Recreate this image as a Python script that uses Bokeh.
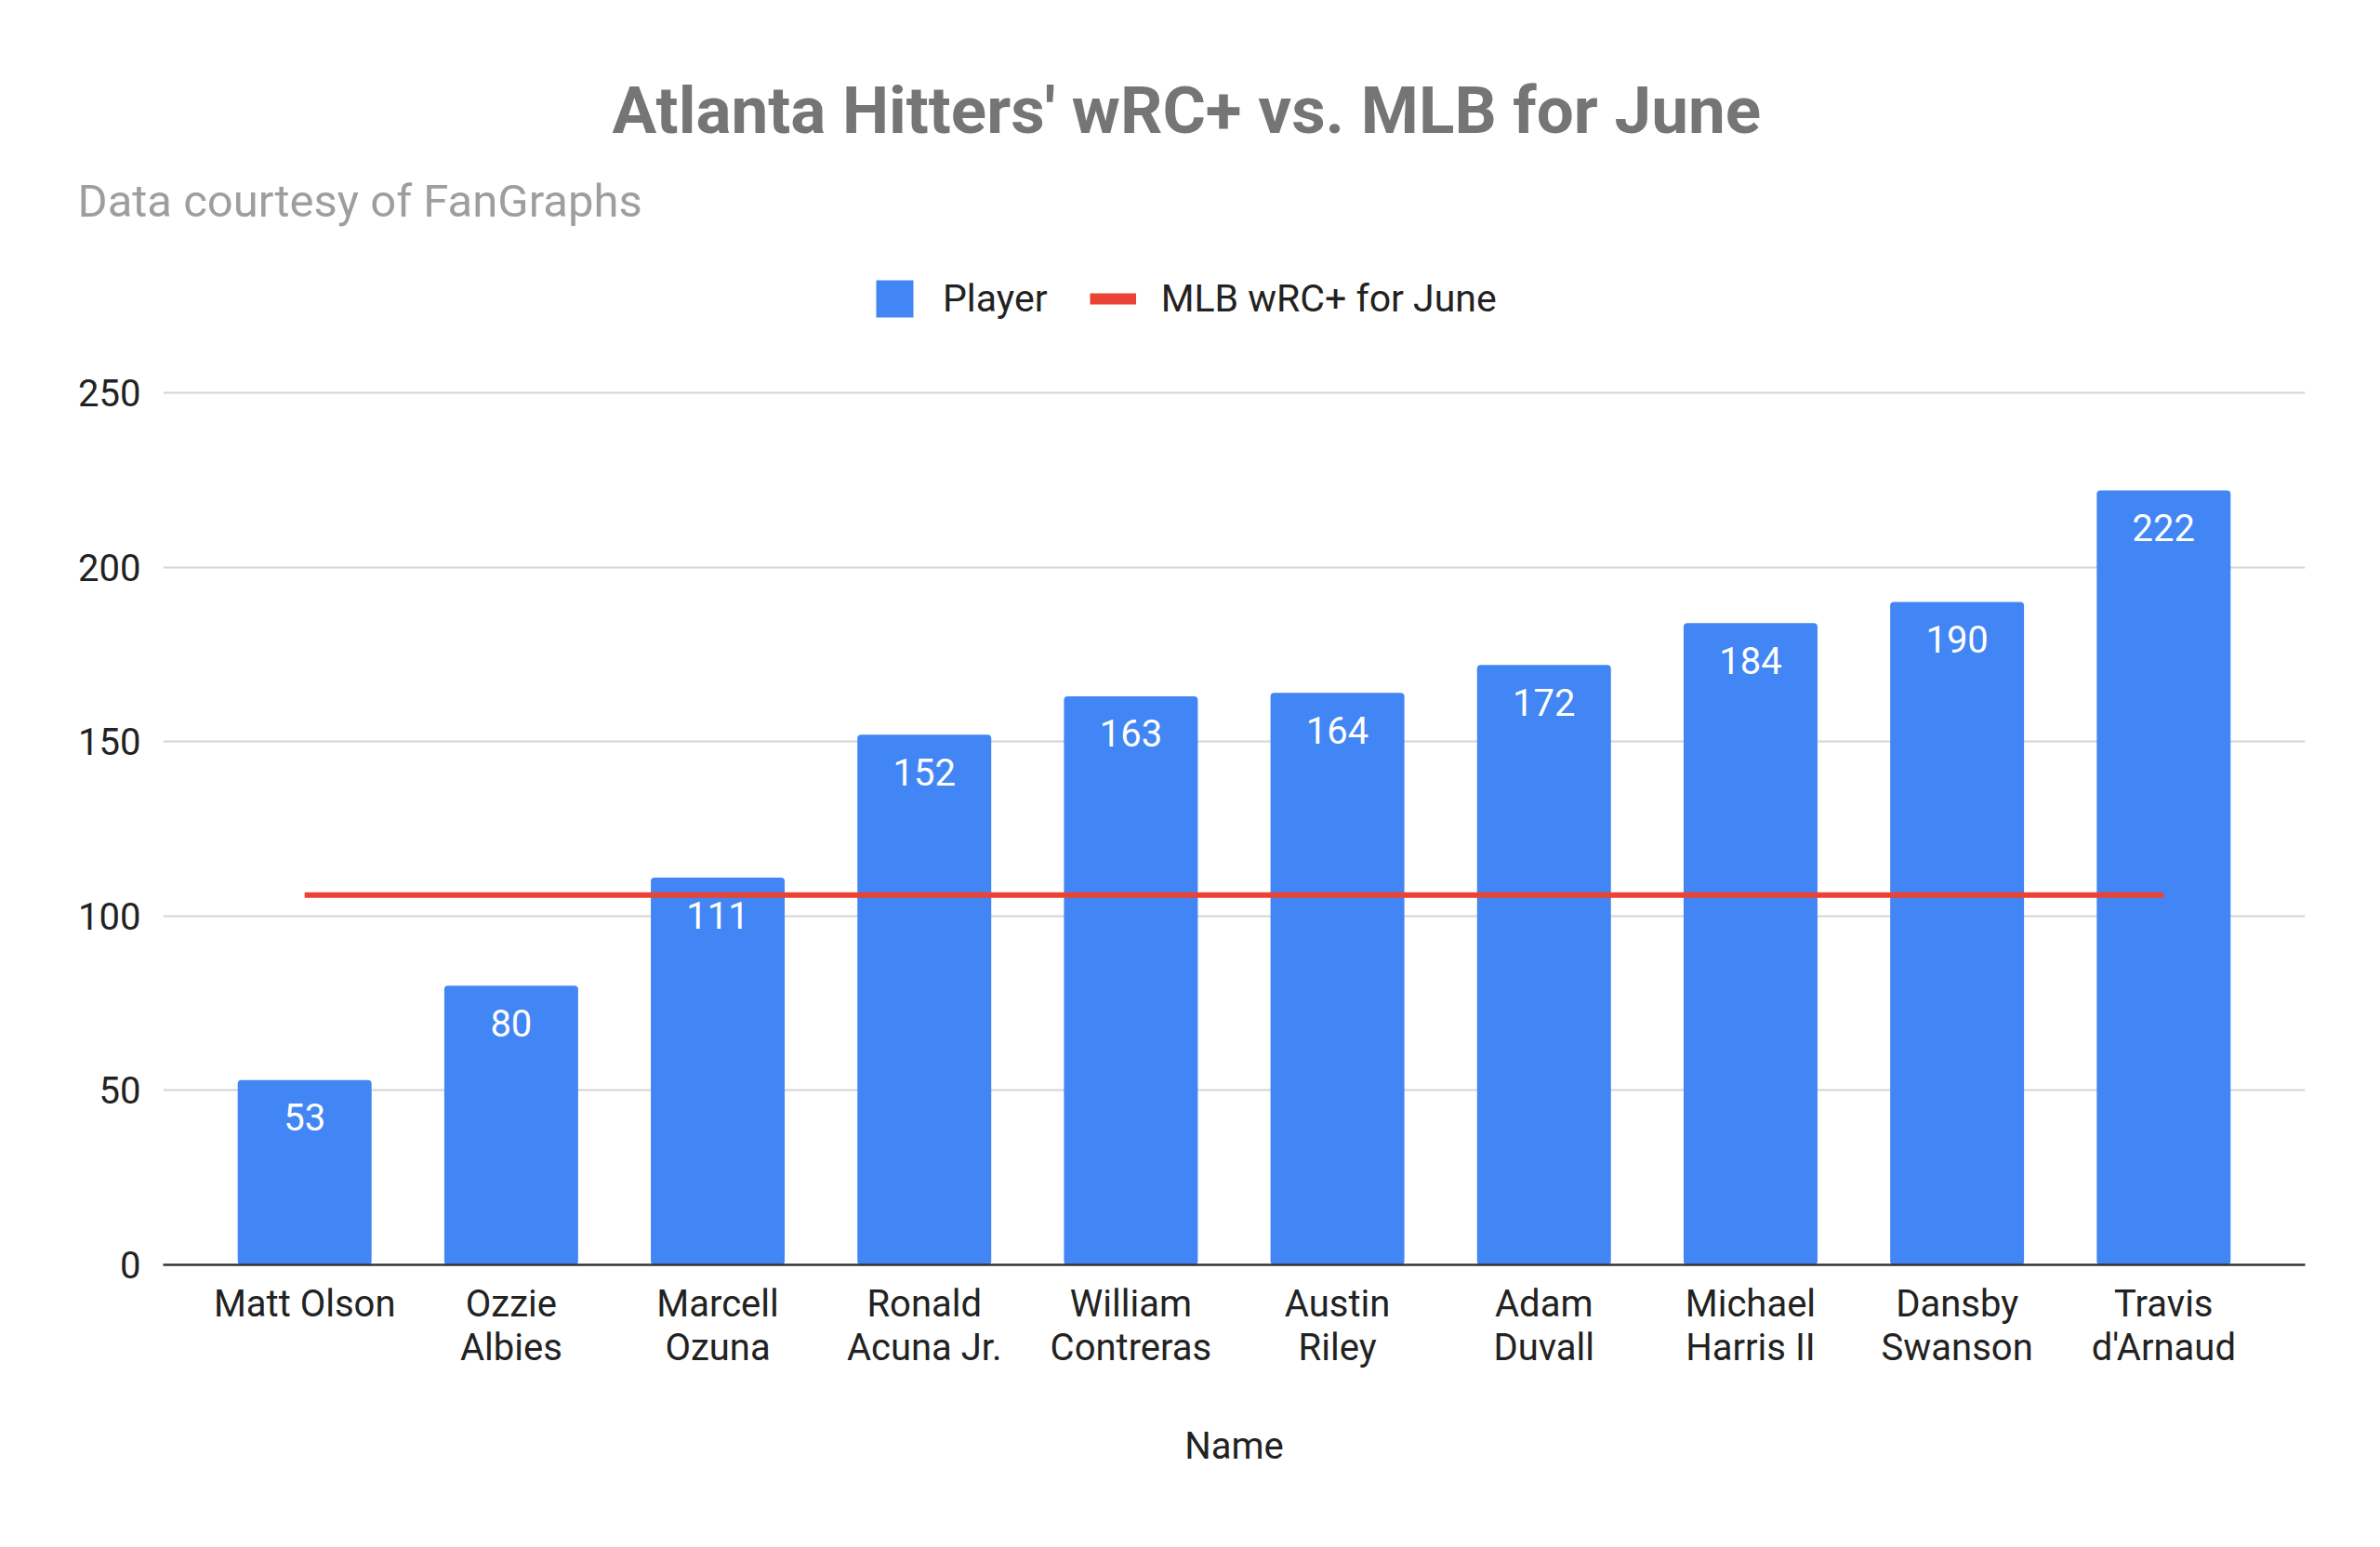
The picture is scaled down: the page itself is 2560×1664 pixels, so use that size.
from bokeh.plotting import figure
from bokeh.models import (ColumnDataSource, FactorRange, Range1d, FixedTicker,
                          LabelSet, Legend, LegendItem, Title)
from bokeh.core.properties import value
from bokeh.embed import file_html
from bokeh.resources import INLINE

# ---- data ----
names = ["Matt Olson", "Ozzie\nAlbies", "Marcell\nOzuna", "Ronald\nAcuna Jr.",
         "William\nContreras", "Austin\nRiley", "Adam\nDuvall", "Michael\nHarris II",
         "Dansby\nSwanson", "Travis\nd'Arnaud"]
wrc_plus = [53, 80, 111, 152, 163, 164, 172, 184, 190, 222]
mlb_june = [106, 106, 106, 106, 106, 106, 106, 106, 106, 106]
y_ticks = [0, 50, 100, 150, 200, 250]

title_text = "Atlanta Hitters' wRC+ vs. MLB for June"
subtitle_text = "Data courtesy of FanGraphs"

FONT = "Roboto"
BLUE = "#4285F4"
RED = "#EA4335"

src = ColumnDataSource(dict(name=names, wrc=wrc_plus, mlb=mlb_june,
                            lbl=[str(v) for v in wrc_plus]))

FRAME_TOP = 280
FRAME_BOTTOM = 1360
PX_PER_UNIT = 3.752
Y_END = (FRAME_BOTTOM - FRAME_TOP) / PX_PER_UNIT

p = figure(width=2544, height=1648, output_backend="svg", toolbar_location=None,
           title=None,
           x_range=FactorRange(factors=names, range_padding=0.037),
           y_range=Range1d(0, Y_END),
           min_border_left=175, min_border_right=65,
           min_border_top=FRAME_TOP, min_border_bottom=1648 - FRAME_BOTTOM)
p.outline_line_color = None
p.background_fill_color = "white"
p.border_fill_color = "white"

bars = p.vbar(x="name", top="wrc", width=0.648, source=src,
              fill_color=BLUE, line_color=None, border_radius=4)
line = p.line(x="name", y="mlb", source=src, line_color=RED, line_width=6)
# thicker copy used only as the legend swatch
leg_line = p.line(x="name", y="mlb", source=src, line_color=RED, line_width=12,
                  visible=False)

labels = LabelSet(x="name", y="wrc", text="lbl", source=src, y_offset=-40,
                  text_align="center", text_baseline="middle",
                  text_color="white", text_font=value(FONT), text_font_size="40px")
p.add_layout(labels)

# axes
p.yaxis.ticker = FixedTicker(ticks=y_ticks)
p.yaxis.axis_line_color = None
p.yaxis.major_tick_line_color = None
p.yaxis.minor_tick_line_color = None
p.yaxis.major_label_standoff = 18
p.yaxis.major_label_text_font = FONT
p.yaxis.major_label_text_font_size = "40px"
p.yaxis.major_label_text_color = "#222222"

p.xaxis.axis_line_color = "#333333"
p.xaxis.axis_line_width = 2.5
p.xaxis.major_tick_line_color = None
p.xaxis.minor_tick_line_color = None
p.xaxis.major_label_standoff = 12
p.xaxis.major_label_text_font = FONT
p.xaxis.major_label_text_font_size = "40px"
p.xaxis.major_label_text_line_height = 1.0
p.xaxis.major_label_text_color = "#222222"
p.xaxis.axis_label = "Name"
p.xaxis.axis_label_text_font = FONT
p.xaxis.axis_label_text_font_size = "40px"
p.xaxis.axis_label_text_font_style = "normal"
p.xaxis.axis_label_text_color = "#222222"
p.xaxis.axis_label_standoff = 56

p.xgrid.grid_line_color = None
p.ygrid.grid_line_color = "#d4d4d4"
p.ygrid.grid_line_width = 2

# subtitle (closest to frame) then title
p.add_layout(Title(text=subtitle_text, align="left", offset=-92, standoff=72,
                   text_font=FONT, text_font_size="49px", text_font_style="normal",
                   text_line_height=0.85,
                   text_color="#9e9e9e"), "above")
p.add_layout(Title(text=title_text, align="left", offset=483, standoff=-20,
                   text_font=FONT, text_font_size="71px", text_font_style="bold",
                   text_color="#757575"), "above")

legend = Legend(items=[LegendItem(label="Player", renderers=[bars]),
                       LegendItem(label="MLB wRC+ for June", renderers=[leg_line])],
                orientation="horizontal", location=(762, 1014),
                glyph_width=50, glyph_height=50, label_standoff=27, spacing=45,
                padding=0, margin=0, border_line_color=None,
                background_fill_alpha=0, inactive_fill_alpha=0,
                label_text_font=FONT, label_text_font_size="41px",
                label_text_color="#222222")
p.add_layout(legend)

open("out.html", "w").write(file_html(p, INLINE))
